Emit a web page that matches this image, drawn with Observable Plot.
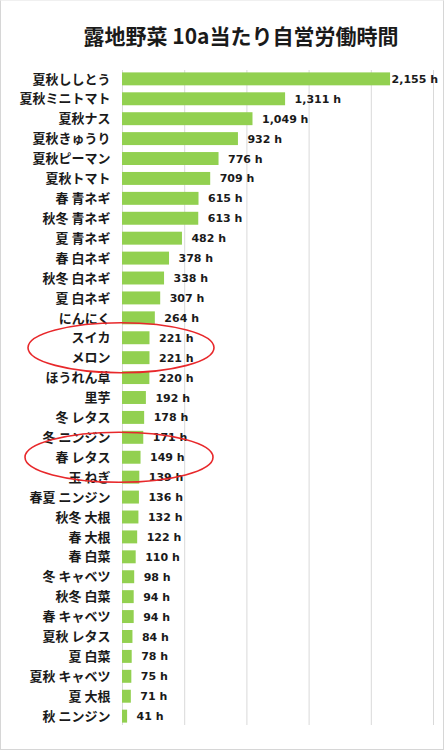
<!DOCTYPE html>
<html>
<head>
<meta charset="utf-8">
<script src="https://cdn.jsdelivr.net/npm/d3@7"></script>
<script src="https://cdn.jsdelivr.net/npm/@observablehq/plot@0.6"></script>
<style>
  html, body { margin: 0; padding: 0; background: #fff; }
  #frame { position: relative; width: 444px; height: 750px; box-sizing: border-box; border: 1px solid #d6d6d6; border-top-color: #f0f0f0; overflow: hidden; background: #fff; }
  #title { height: 59px; box-sizing: border-box; padding-top: 22px; padding-left: 38px; text-align: center; font-family: "Noto Sans CJK JP", sans-serif; font-weight: bold; font-size: 21px; line-height: 24px; color: #1a1a1a; }
  #chart svg { display: block; }
</style>
</head>
<body>
<div id="frame">
  <div id="title">露地野菜 10a当たり自営労働時間</div>
  <div id="chart"></div>
</div>
<script>
const crops = ["夏秋ししとう","夏秋ミニトマト","夏秋ナス","夏秋きゅうり","夏秋ピーマン","夏秋トマト","春 青ネギ","秋冬 青ネギ","夏 青ネギ","春 白ネギ","秋冬 白ネギ","夏 白ネギ","にんにく","スイカ","メロン","ほうれん草","里芋","冬 レタス","冬 ニンジン","春 レタス","玉 ねぎ","春夏 ニンジン","秋冬 大根","春 大根","春 白菜","冬 キャベツ","秋冬 白菜","春 キャベツ","夏秋 レタス","夏 白菜","夏秋 キャベツ","夏 大根","秋 ニンジン"];
const hours = [2155,1311,1049,932,776,709,615,613,482,378,338,307,264,221,221,220,192,178,171,149,139,136,132,122,110,98,94,94,84,78,75,71,41];
const gridTicks = [0,500,1000,1500,2000,2500];
const circledGroups = [["スイカ","メロン"],["春 レタス"]];

const data = crops.map((c, i) => ({crop: c, hours: hours[i]}));
const fmt = d3.format(",");
const maxH = d3.max(hours);

function ellipses(index, scales, values, dimensions) {
  const g = d3.create("svg:g");
  const y = scales.y;
  const bw = y.bandwidth ? y.bandwidth() : 0;
  const groups = [
    {cats: circledGroups[0], cx: 120, rx: 93},
    {cats: circledGroups[1], cx: 118, rx: 94}
  ];
  for (const gr of groups) {
    const ys = gr.cats.map(c => y(c) + bw / 2);
    const cy = d3.mean(ys);
    g.append("ellipse")
      .attr("cx", gr.cx).attr("cy", cy)
      .attr("rx", gr.rx).attr("ry", 25)
      .attr("fill", "none").attr("stroke", "#e8282b").attr("stroke-width", 1.6);
  }
  return g.node();
}

const chart = Plot.plot({
  width: 442,
  height: 690,
  marginLeft: 121,
  marginRight: 10,
  marginTop: 10,
  marginBottom: 25,
  style: {background: "transparent", overflow: "visible"},
  x: {domain: [0, 2500], axis: null},
  y: {domain: crops, paddingInner: 0.35, paddingOuter: 0.12, round: false, label: null},
  marks: [
    Plot.ruleX(gridTicks, {stroke: "#d9d9d9", strokeWidth: 1, strokeOpacity: 1}),
    Plot.barX(data, {x: "hours", y: "crop", fill: "#92d050"}),
    Plot.axisY({tickSize: 0, tickPadding: 12, label: null, fontSize: 13, fontWeight: "bold", fontFamily: "Noto Sans CJK JP", fill: "#1a1a1a"}),
    Plot.text(data.filter(d => d.hours !== maxH), {x: "hours", y: "crop", text: d => fmt(d.hours) + " h", textAnchor: "start", dx: 9, fontSize: 11, fontWeight: "bold", fontFamily: "DejaVu Sans", fill: "#1a1a1a"}),
    Plot.text(data.filter(d => d.hours === maxH), {x: "hours", y: "crop", text: d => fmt(d.hours) + " h", textAnchor: "start", dx: 1, fontSize: 11, fontWeight: "bold", fontFamily: "DejaVu Sans", fill: "#1a1a1a"}),
    ellipses
  ]
});
document.getElementById("chart").appendChild(chart);
</script>
</body>
</html>
